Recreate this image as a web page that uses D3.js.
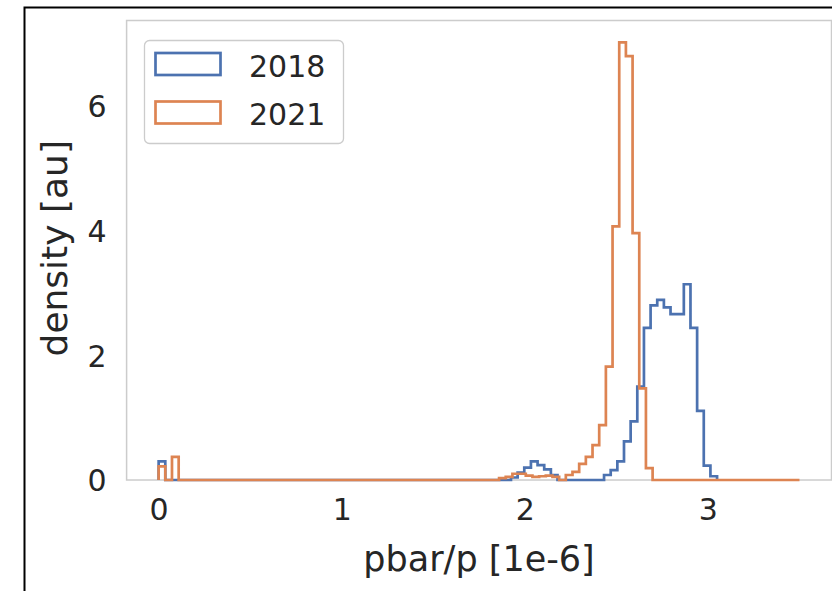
<!DOCTYPE html>
<html>
<head>
<meta charset="utf-8">
<script src="https://cdn.jsdelivr.net/npm/d3@7"></script>
<style>
  html, body { margin: 0; padding: 0; background: #fff; }
  svg text { font-family: "DejaVu Sans", sans-serif; fill: #262626; }
</style>
</head>
<body>
<svg id="chart" width="832" height="591"></svg>
<script>
// Binned densities of pbar/p (units of 1e-6), one step histogram per run year.
const years = ["2018", "2021"];
const colors = ["#4c72b0", "#dd8452"];

// 2018: 84 equal bins over [0, 3.05]
const binRange2018 = [0, 3.05];
const density2018 = [
  0.30, 0, 0, 0, 0, 0, 0, 0, 0, 0,
  0, 0, 0, 0, 0, 0, 0, 0, 0, 0,
  0, 0, 0, 0, 0, 0, 0, 0, 0, 0,
  0, 0, 0, 0, 0, 0, 0, 0, 0, 0,
  0, 0, 0, 0, 0, 0, 0, 0, 0, 0,
  0, 0, 0, 0.04, 0.12, 0.20, 0.30, 0.24, 0.17, 0.08,
  0, 0, 0, 0, 0, 0, 0, 0.08, 0.16, 0.30,
  0.62, 0.94, 1.50, 2.44, 2.80, 2.89, 2.77, 2.66, 2.66, 3.14,
  2.44, 1.11, 0.23, 0.06
];

// 2021: 96 equal bins over [0, 3.5]
const binRange2021 = [0, 3.5];
const density2021 = [
  0.22, 0, 0.37, 0, 0, 0, 0, 0, 0, 0,
  0, 0, 0, 0, 0, 0, 0, 0, 0, 0,
  0, 0, 0, 0, 0, 0, 0, 0, 0, 0,
  0, 0, 0, 0, 0, 0, 0, 0, 0, 0,
  0, 0, 0, 0, 0, 0, 0, 0, 0, 0,
  0, 0.03, 0.05, 0.10, 0.10, 0.07, 0.05, 0.06, 0.07, 0.05,
  0, 0.08, 0.13, 0.26, 0.37, 0.56, 0.88, 1.82, 4.07, 7.02,
  6.80, 3.96, 1.47, 0.19, 0, 0, 0, 0, 0, 0,
  0, 0, 0, 0, 0, 0, 0, 0, 0, 0,
  0, 0, 0, 0, 0, 0
];

const xTicks = [0, 1, 2, 3];
const yTicks = [0, 2, 4, 6];
const xLabel = "pbar/p [1e-6]";
const yLabel = "density [au]";

const series = [
  { name: years[0], range: binRange2018, values: density2018, color: colors[0] },
  { name: years[1], range: binRange2021, values: density2021, color: colors[1] }
];

const svg = d3.select("#chart");
const W = 832, H = 591;
const plot = { left: 126.6, right: 831.5, top: 20.5, bottom: 480 };

svg.append("rect").attr("width", W).attr("height", H).attr("fill", "#fff");

// outer figure frame
svg.append("rect")
  .attr("x", 24.5).attr("y", 7.5).attr("width", 900).attr("height", 700)
  .attr("fill", "none").attr("stroke", "#000").attr("stroke-width", 2);

// axis limits with 5% padding on x, and on the top of y
const xMin = d3.min(series, s => s.range[0]);
const xMax = d3.max(series, s => s.range[1]);
const xPad = 0.05 * (xMax - xMin);
const yMax = d3.max(series, s => d3.max(s.values));

const x = d3.scaleLinear().domain([xMin - xPad, xMax + xPad]).range([plot.left, plot.right]);
const y = d3.scaleLinear().domain([0, yMax * 1.05]).range([plot.bottom, plot.top]);

// plot background and frame
svg.append("rect")
  .attr("x", plot.left).attr("y", plot.top)
  .attr("width", plot.right - plot.left).attr("height", plot.bottom - plot.top)
  .attr("fill", "#fff").attr("stroke", "#cccccc").attr("stroke-width", 1.5);

// step outlines
function stepPoints(s) {
  const n = s.values.length;
  const w = (s.range[1] - s.range[0]) / n;
  const pts = [[s.range[0], 0]];
  s.values.forEach((v, i) => {
    const a = s.range[0] + i * w;
    pts.push([a, v], [a + w, v]);
  });
  pts.push([s.range[1], 0]);
  return pts;
}

const line = d3.line().x(d => x(d[0])).y(d => y(d[1]));
const g = svg.append("g");
series.forEach(s => {
  g.append("path")
    .attr("d", line(stepPoints(s)))
    .attr("fill", "none")
    .attr("stroke", s.color)
    .attr("stroke-width", 2.7)
    .attr("stroke-linejoin", "miter");
});

// x axis
const xAxis = d3.axisBottom(x).tickValues(xTicks).tickSize(0).tickPadding(0).tickFormat(d3.format("d"));
const gx = svg.append("g").attr("transform", `translate(0,${plot.bottom})`).call(xAxis);
gx.select(".domain").remove();
gx.selectAll("text").attr("dy", null).attr("y", 40).attr("font-size", 30)
  .attr("font-family", "DejaVu Sans").attr("fill", "#262626");

// y axis
const yAxis = d3.axisLeft(y).tickValues(yTicks).tickSize(0).tickPadding(0).tickFormat(d3.format("d"));
const gy = svg.append("g").attr("transform", `translate(${plot.left},0)`).call(yAxis);
gy.select(".domain").remove();
gy.selectAll("text").attr("dy", "0.36em").attr("x", -20).attr("font-size", 30)
  .attr("font-family", "DejaVu Sans").attr("fill", "#262626");

// axis titles
svg.append("text")
  .attr("x", (plot.left + plot.right) / 2).attr("y", 571)
  .attr("text-anchor", "middle").attr("font-size", 35)
  .text(xLabel);
svg.append("text")
  .attr("transform", `translate(67,${(plot.top + plot.bottom) / 2 - 2}) rotate(-90)`)
  .attr("text-anchor", "middle").attr("font-size", 36)
  .text(yLabel);

// legend
const leg = svg.append("g");
leg.append("rect")
  .attr("x", 144.5).attr("y", 40.5).attr("width", 199).attr("height", 103).attr("rx", 5)
  .attr("fill", "#fff").attr("fill-opacity", 0.8).attr("stroke", "#cccccc").attr("stroke-width", 1.3);
series.forEach((s, i) => {
  const top = 53 + i * 48.5;
  leg.append("rect")
    .attr("x", 155.5).attr("y", top).attr("width", 65).attr("height", 22)
    .attr("fill", "none").attr("stroke", s.color).attr("stroke-width", 2.7);
  leg.append("text")
    .attr("x", 249).attr("y", top + 23.5).attr("font-size", 30)
    .text(s.name);
});
</script>
</body>
</html>
